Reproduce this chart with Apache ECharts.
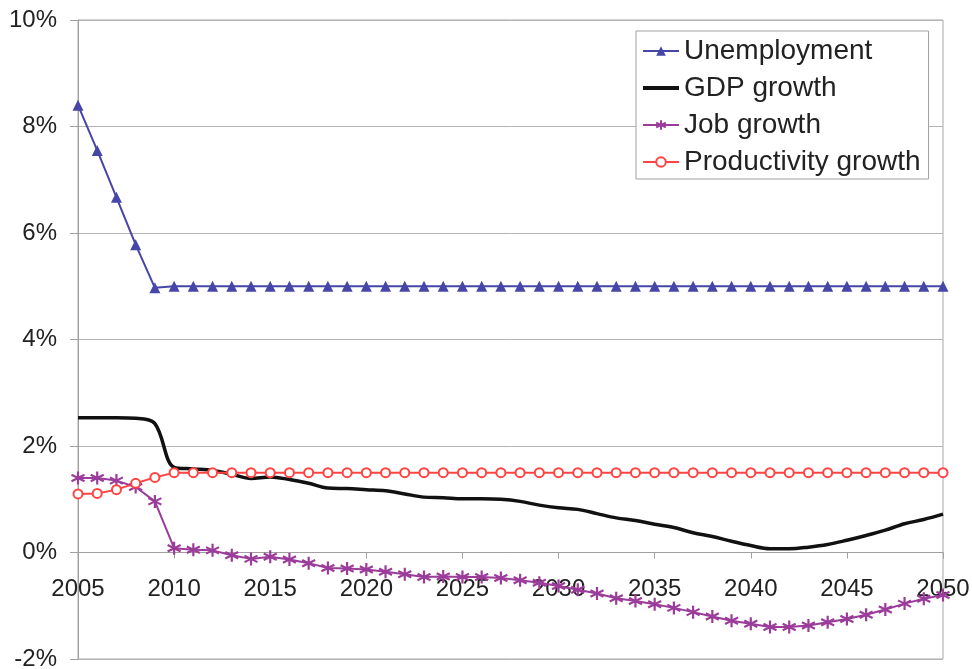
<!DOCTYPE html>
<html>
<head>
<meta charset="utf-8">
<script src="https://cdn.jsdelivr.net/npm/echarts@6/dist/echarts.min.js"></script>
<style>
  html, body { margin: 0; padding: 0; background: #fff; }
  #chart { width: 972px; height: 669px; }
</style>
</head>
<body>
<div id="chart"></div>
<script>
// Years on the category axis
const years = [
  '2005','2006','2007','2008','2009','2010','2011','2012','2013','2014',
  '2015','2016','2017','2018','2019','2020','2021','2022','2023','2024',
  '2025','2026','2027','2028','2029','2030','2031','2032','2033','2034',
  '2035','2036','2037','2038','2039','2040','2041','2042','2043','2044',
  '2045','2046','2047','2048','2049','2050'
];

// Rates in percent
const unemployment = [
  8.4, 7.55, 6.67, 5.78, 4.97, 5.0, 5.0, 5.0, 5.0, 5.0,
  5.0, 5.0, 5.0, 5.0, 5.0, 5.0, 5.0, 5.0, 5.0, 5.0,
  5.0, 5.0, 5.0, 5.0, 5.0, 5.0, 5.0, 5.0, 5.0, 5.0,
  5.0, 5.0, 5.0, 5.0, 5.0, 5.0, 5.0, 5.0, 5.0, 5.0,
  5.0, 5.0, 5.0, 5.0, 5.0, 5.0
];
const gdpGrowth = [
  2.53, 2.53, 2.53, 2.52, 2.42, 1.6, 1.57, 1.54, 1.47, 1.39,
  1.42, 1.37, 1.3, 1.21, 1.2, 1.18, 1.16, 1.1, 1.04, 1.03,
  1.01, 1.01, 1.0, 0.96, 0.89, 0.84, 0.81, 0.73, 0.65, 0.6,
  0.53, 0.47, 0.37, 0.3, 0.21, 0.13, 0.07, 0.07, 0.1, 0.15,
  0.23, 0.32, 0.42, 0.54, 0.62, 0.72
];
const jobGrowth = [
  1.4, 1.4, 1.35, 1.23, 0.96, 0.08, 0.05, 0.04, -0.05, -0.12,
  -0.08, -0.13, -0.2, -0.29, -0.3, -0.32, -0.36, -0.41, -0.46, -0.45,
  -0.46, -0.46, -0.48, -0.52, -0.57, -0.63, -0.7, -0.77, -0.86, -0.91,
  -0.97, -1.04, -1.12, -1.2, -1.28, -1.34, -1.4, -1.4, -1.37, -1.31,
  -1.25, -1.17, -1.07, -0.96, -0.87, -0.8
];
const productivityGrowth = [
  1.1, 1.11, 1.18, 1.3, 1.41, 1.5, 1.5, 1.5, 1.5, 1.5,
  1.5, 1.5, 1.5, 1.5, 1.5, 1.5, 1.5, 1.5, 1.5, 1.5,
  1.5, 1.5, 1.5, 1.5, 1.5, 1.5, 1.5, 1.5, 1.5, 1.5,
  1.5, 1.5, 1.5, 1.5, 1.5, 1.5, 1.5, 1.5, 1.5, 1.5,
  1.5, 1.5, 1.5, 1.5, 1.5, 1.5
];

const FONT = '"Liberation Sans", Arial, sans-serif';
const BLUE = '#4646a8';
const PURPLE = '#9b3c9b';
const RED = '#ff4444';
// six-armed asterisk marker
const STAR = 'path://M0,-1L0,1M-0.87,-0.5L0.87,0.5M-0.87,0.5L0.87,-0.5';
// plain thick bar for the GDP legend entry
const BAR = 'path://M0,0L36,0L36,4L0,4Z';

const GRID_TOP = 20, GRID_BOTTOM = 10, CHART_H = 669;
const Y_MIN = -2, Y_MAX = 10;
// lift the category axis from the bottom edge up to the 0% line
const zeroLift = (CHART_H - GRID_TOP - GRID_BOTTOM) * (0 - Y_MIN) / (Y_MAX - Y_MIN);

const chart = echarts.init(document.getElementById('chart'), null, { renderer: 'canvas' });
chart.setOption({
  animation: false,
  backgroundColor: '#fff',
  grid: {
    left: 78, right: 29, top: GRID_TOP, bottom: GRID_BOTTOM,
    containLabel: false,
    outerBoundsMode: 'none',
    show: true, borderColor: '#a8a8a8', borderWidth: 1
  },
  legend: {
    orient: 'vertical',
    left: 636, top: 31,
    padding: [5, 8, 2, 6],
    itemWidth: 36, itemHeight: 12, itemGap: 7,
    backgroundColor: '#fff',
    borderColor: '#a0a0a0', borderWidth: 1,
    textStyle: { fontFamily: FONT, fontSize: 28, color: '#222', lineHeight: 30 },
    data: [
      'Unemployment',
      { name: 'GDP growth', icon: BAR, itemStyle: { color: '#111' } },
      'Job growth',
      'Productivity growth'
    ]
  },
  xAxis: {
    type: 'category',
    data: years,
    boundaryGap: false,
    position: 'bottom',
    offset: -zeroLift,
    axisLine: { onZero: false, lineStyle: { color: '#a0a0a0', width: 1 } },
    axisTick: { show: true, interval: 4, length: 6, lineStyle: { color: '#a0a0a0' } },
    axisLabel: { interval: 4, margin: 25, fontFamily: FONT, fontSize: 24, color: '#222' },
    splitLine: { show: false }
  },
  yAxis: {
    type: 'value',
    min: Y_MIN, max: Y_MAX, interval: 2,
    axisLine: { show: true, lineStyle: { color: '#a0a0a0', width: 1 } },
    axisTick: { show: true, length: 8, lineStyle: { color: '#a0a0a0' } },
    axisLabel: { formatter: '{value}%', margin: 21, fontFamily: FONT, fontSize: 24, color: '#222' },
    splitLine: { lineStyle: { color: '#b4b4b4', width: 1 } }
  },
  series: [
    {
      name: 'Unemployment', type: 'line', data: unemployment,
      symbol: 'triangle', symbolSize: 11, showAllSymbol: true,
      lineStyle: { color: BLUE, width: 2 },
      itemStyle: { color: BLUE }
    },
    {
      name: 'GDP growth', type: 'line', data: gdpGrowth,
      symbol: 'none', smooth: 0.35,
      lineStyle: { color: '#111', width: 3.5 },
      itemStyle: { color: '#111' }
    },
    {
      name: 'Job growth', type: 'line', data: jobGrowth,
      symbol: STAR, symbolSize: 13, showAllSymbol: true,
      lineStyle: { color: PURPLE, width: 2 },
      itemStyle: { color: PURPLE, borderColor: PURPLE, borderWidth: 2.2 }
    },
    {
      name: 'Productivity growth', type: 'line', data: productivityGrowth,
      symbol: 'emptyCircle', symbolSize: 9, showAllSymbol: true,
      lineStyle: { color: RED, width: 2 },
      itemStyle: { color: RED, borderColor: RED, borderWidth: 1.8 }
    }
  ]
});
</script>
</body>
</html>
